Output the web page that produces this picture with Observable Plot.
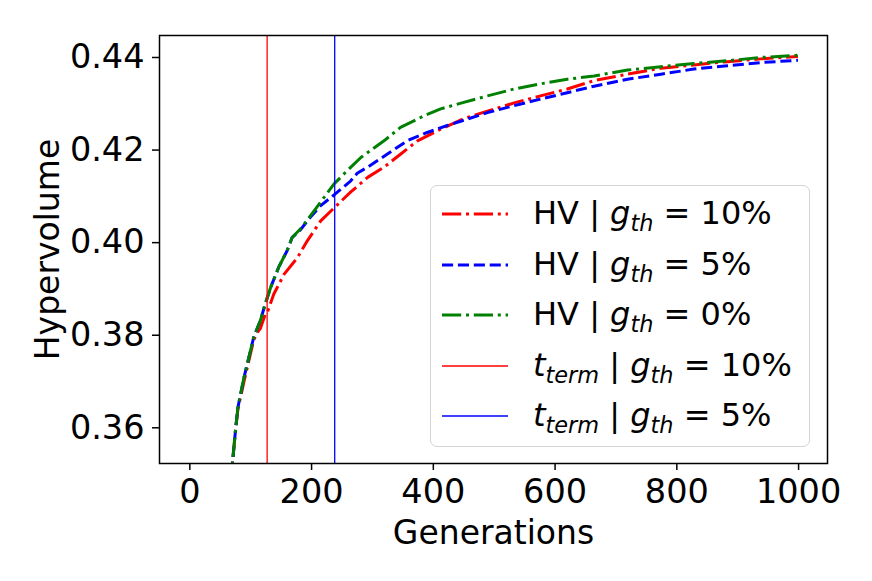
<!DOCTYPE html>
<html><head><meta charset="utf-8">
<script src="https://cdn.jsdelivr.net/npm/d3@7"></script>
<script src="https://cdn.jsdelivr.net/npm/@observablehq/plot@0.6"></script>
<style>
body{margin:0;background:#fff;}
#wrap{position:relative;width:872px;height:581px;font-family:"DejaVu Sans",sans-serif;}
#legend{position:absolute;left:430px;top:185px;width:380px;height:262px;border:1.5px solid #d3d3d3;border-radius:7px;background:rgba(255,255,255,0.8);box-sizing:border-box;}
.row{position:absolute;left:0;height:50px;display:flex;align-items:center;white-space:nowrap;font-size:32px;color:#000;}
.row svg{position:absolute;left:11px;top:20px;}
.row .lab{position:absolute;left:102px;top:4px;line-height:40px;}
.row sub{font-size:0.7em;vertical-align:-0.3em;font-style:italic;line-height:0;}
</style>
</head><body>
<div id="wrap"><div id="chart"></div><div id="legend"></div></div>
<script>
// HV | g_th = 10%
const gen10 = [67, 70, 75, 79, 89, 97, 105, 112, 116, 124, 128, 138, 155, 177, 193, 215, 237, 264, 292, 319, 346, 374, 412, 450, 489, 533, 576, 620, 664, 719, 774, 828, 883, 938, 999];
const hv10  = [0.340, 0.3523, 0.3594, 0.3640, 0.3700, 0.3745, 0.3790, 0.3808, 0.3815, 0.3845, 0.3852, 0.3889, 0.3932, 0.3968, 0.4004, 0.4047, 0.4075, 0.4109, 0.4141, 0.4163, 0.4191, 0.4220, 0.4245, 0.4268, 0.4284, 0.4302, 0.4317, 0.4332, 0.4350, 0.4364, 0.4377, 0.4384, 0.4391, 0.4397, 0.4402];
// HV | g_th = 5%
const gen5 = [67, 70, 75, 79, 89, 97, 105, 116, 124, 133, 146, 160, 168, 182, 198, 215, 237, 264, 275, 292, 324, 357, 390, 423, 456, 489, 533, 576, 620, 664, 719, 774, 828, 883, 938, 999];
const hv5  = [0.340, 0.3523, 0.3594, 0.3644, 0.3709, 0.3752, 0.3796, 0.3832, 0.3868, 0.3904, 0.3947, 0.3983, 0.4011, 0.4028, 0.4055, 0.4080, 0.4103, 0.4133, 0.4150, 0.4163, 0.4191, 0.4220, 0.4238, 0.4253, 0.4267, 0.4281, 0.4296, 0.4310, 0.4324, 0.4338, 0.4353, 0.4364, 0.4375, 0.4382, 0.4389, 0.4394];
// HV | g_th = 0%
const gen0 = [67, 70, 75, 79, 89, 97, 105, 116, 124, 133, 146, 160, 168, 182, 198, 215, 237, 259, 281, 300, 319, 346, 385, 412, 450, 489, 533, 576, 620, 664, 719, 774, 828, 883, 938, 999];
const hv0  = [0.340, 0.3523, 0.3594, 0.3644, 0.3709, 0.3752, 0.3796, 0.3832, 0.3868, 0.3904, 0.3947, 0.3983, 0.4011, 0.4030, 0.4058, 0.4088, 0.4127, 0.4156, 0.4184, 0.4202, 0.4220, 0.4249, 0.4274, 0.4289, 0.4303, 0.4317, 0.4332, 0.4343, 0.4353, 0.4360, 0.4373, 0.4380, 0.4387, 0.4393, 0.4400, 0.4405];
// termination generations
const tTerm10 = 127;
const tTerm5 = 238;
const xTicks = [0, 200, 400, 600, 800, 1000];
const yTicks = [0.36, 0.38, 0.40, 0.42, 0.44];
const xDomain = [-49.8, 1047.5];
const yDomain = [0.35229, 0.44475];

const toRows = (g, h) => g.map((x, i) => ({x, y: h[i]}));
const d10 = toRows(gen10, hv10), d5 = toRows(gen5, hv5), d0 = toRows(gen0, hv0);

const dashDot = "19.2,4.8,3,4.8";
const dashed = "11.1,4.8";

const chart = Plot.plot({
  width: 872, height: 581,
  marginLeft: 159, marginRight: 45, marginTop: 35, marginBottom: 118,
  style: {fontFamily: "DejaVu Sans", background: "white", color: "black"},
  x: {domain: xDomain},
  y: {domain: yDomain},
  marks: [
    Plot.line(d10, {x: "x", y: "y", stroke: "#ff0000", strokeWidth: 3, strokeDasharray: dashDot, strokeLinecap: "butt", strokeLinejoin: "round", clip: true}),
    Plot.line(d5, {x: "x", y: "y", stroke: "#0000ff", strokeWidth: 3, strokeDasharray: dashed, strokeLinecap: "butt", strokeLinejoin: "round", clip: true}),
    Plot.line(d0, {x: "x", y: "y", stroke: "#008000", strokeWidth: 3, strokeDasharray: dashDot, strokeLinecap: "butt", strokeLinejoin: "round", clip: true}),
    Plot.ruleX([tTerm10], {stroke: "#ff0000", strokeWidth: 1.3}),
    Plot.ruleX([tTerm5], {stroke: "#0000ff", strokeWidth: 1.3}),
    Plot.frame({stroke: "black", strokeWidth: 1.5}),
    Plot.axisX({ticks: xTicks, tickFormat: d3.format("d"), tickSize: 7, tickPadding: 9, fontSize: 33.5, strokeWidth: 1.5,
      label: "Generations", labelAnchor: "center", labelOffset: 80, labelArrow: false}),
    Plot.axisY({ticks: yTicks, tickFormat: d3.format(".2f"), tickSize: 7, tickPadding: 8, fontSize: 33.5, strokeWidth: 1.5,
      label: "Hypervolume", labelAnchor: "center", labelOffset: 124, labelArrow: false})
  ]
});
chart.querySelectorAll("[aria-label='x-axis label'] text, [aria-label='y-axis label'] text").forEach(t => {
  t.setAttribute("font-size", 33);
  t.textContent = t.textContent.replace(/\s*[→←↑↓]\s*/g, "");
});
document.getElementById("chart").appendChild(chart);

// legend
const legendItems = [
  {kind: "hv", sub: "10%", color: "#ff0000", dash: dashDot, w: 3},
  {kind: "hv", sub: "5%", color: "#0000ff", dash: dashed, w: 3},
  {kind: "hv", sub: "0%", color: "#008000", dash: dashDot, w: 3},
  {kind: "t", sub: "10%", color: "#ff0000", dash: null, w: 1.3},
  {kind: "t", sub: "5%", color: "#0000ff", dash: null, w: 1.3}
];
const leg = document.getElementById("legend");
legendItems.forEach((it, i) => {
  const row = document.createElement("div");
  row.className = "row";
  row.style.top = (3 + i * 50.5) + "px";
  const head = it.kind === "hv" ? "HV" : "<i>t</i><sub>term</sub>";
  row.innerHTML = `<svg width="66" height="10"><line x1="0" y1="5" x2="66" y2="5" stroke="${it.color}" stroke-width="${it.w}" ${it.dash ? `stroke-dasharray="${it.dash}"` : ""}/></svg>` +
    `<span class="lab">${head} | <i>g</i><sub>th</sub> = ${it.sub}</span>`;
  leg.appendChild(row);
});
</script>
</body></html>
